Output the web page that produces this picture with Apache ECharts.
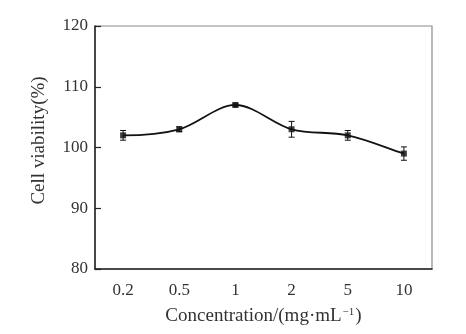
<!DOCTYPE html>
<html>
<head>
<meta charset="utf-8">
<script src="https://cdn.jsdelivr.net/npm/echarts@6/dist/echarts.min.js"></script>
<style>html,body{margin:0;padding:0;background:#fff;}#c{width:466px;height:334px;}</style>
</head>
<body>
<div id="c"></div>
<script>
const categories = ['0.2', '0.5', '1', '2', '5', '10'];
const viability = [102, 103, 107, 103, 102, 99];
const errors = [0.8, 0.4, 0.3, 1.3, 0.8, 1.1];
const yTicks = [80, 90, 100, 110, 120];

const chart = echarts.init(document.getElementById('c'), null, {renderer: 'canvas'});
const font = 'Liberation Serif';
const errData = categories.map((c, i) => [i, viability[i] - errors[i], viability[i] + errors[i]]);
const ptData = categories.map((c, i) => [i, viability[i]]);

function curveItem(params, api) {
  const i = params.dataIndex;
  const n = viability.length;
  if (i >= n - 1) return null;
  const P = viability.map((v, k) => api.coord([k, v]));
  function tangent(k) {
    if (k === 0) return [P[1][0] - P[0][0], 0];
    if (k === n - 1) return [P[n - 1][0] - P[n - 2][0], P[n - 1][1] - P[n - 2][1]];
    return [(P[k + 1][0] - P[k - 1][0]) / 2, (P[k + 1][1] - P[k - 1][1]) / 2];
  }
  const t0 = tangent(i), t1 = tangent(i + 1);
  const a = P[i], b = P[i + 1];
  return {
    type: 'bezierCurve',
    shape: {x1: a[0], y1: a[1], x2: b[0], y2: b[1],
      cpx1: a[0] + t0[0] / 3, cpy1: a[1] + t0[1] / 3,
      cpx2: b[0] - t1[0] / 3, cpy2: b[1] - t1[1] / 3},
    style: {stroke: '#111', lineWidth: 1.8, fill: null}
  };
}

chart.setOption({
  animation: false,
  grid: {left: 95, right: 34, top: 26, bottom: 65, show: true, borderColor: '#8a8a8a', borderWidth: 1.2},
  xAxis: {
    type: 'category',
    data: categories,
    boundaryGap: true,
    axisLine: {lineStyle: {color: '#222', width: 1.5}},
    axisTick: {inside: true, alignWithLabel: true, length: 6, lineStyle: {color: '#222', width: 1.2}},
    axisLabel: {color: '#333', fontFamily: font, fontSize: 17, margin: 13},
    name: 'Concentration/(mg·mL{sup|−1})',
    nameLocation: 'middle',
    nameGap: 38,
    nameTextStyle: {color: '#333', fontFamily: font, fontSize: 19,
      rich: {sup: {fontFamily: font, fontSize: 11, verticalAlign: 'top', padding: [0, 1, 8, 1], color: '#333'}}}
  },
  yAxis: {
    type: 'value',
    min: yTicks[0], max: yTicks[yTicks.length - 1], interval: 10,
    axisLine: {show: true, lineStyle: {color: '#222', width: 1.5}},
    axisTick: {show: true, inside: true, length: 6, lineStyle: {color: '#222', width: 1.2}},
    axisLabel: {color: '#333', fontFamily: font, fontSize: 17, margin: 7},
    splitLine: {show: false},
    name: 'Cell viability(%)',
    nameLocation: 'middle',
    nameGap: 46,
    nameTextStyle: {color: '#333', fontFamily: font, fontSize: 19, padding: [0, 0, 0, 14]}
  },
  series: [
    {
      type: 'custom',
      data: ptData,
      renderItem: curveItem,
      z: 2
    },
    {
      type: 'scatter',
      data: ptData,
      symbol: 'rect',
      symbolSize: 6,
      itemStyle: {color: '#111'},
      z: 3
    },
    {
      type: 'custom',
      data: errData,
      z: 4,
      renderItem: function (params, api) {
        const x = api.value(0);
        const lo = api.coord([x, api.value(1)]);
        const hi = api.coord([x, api.value(2)]);
        const w = 3;
        const st = {stroke: '#111', lineWidth: 1};
        return {type: 'group', children: [
          {type: 'line', shape: {x1: lo[0], y1: lo[1], x2: hi[0], y2: hi[1]}, style: st},
          {type: 'line', shape: {x1: lo[0] - w, y1: lo[1], x2: lo[0] + w, y2: lo[1]}, style: st},
          {type: 'line', shape: {x1: hi[0] - w, y1: hi[1], x2: hi[0] + w, y2: hi[1]}, style: st}
        ]};
      }
    }
  ]
});
</script>
</body>
</html>
